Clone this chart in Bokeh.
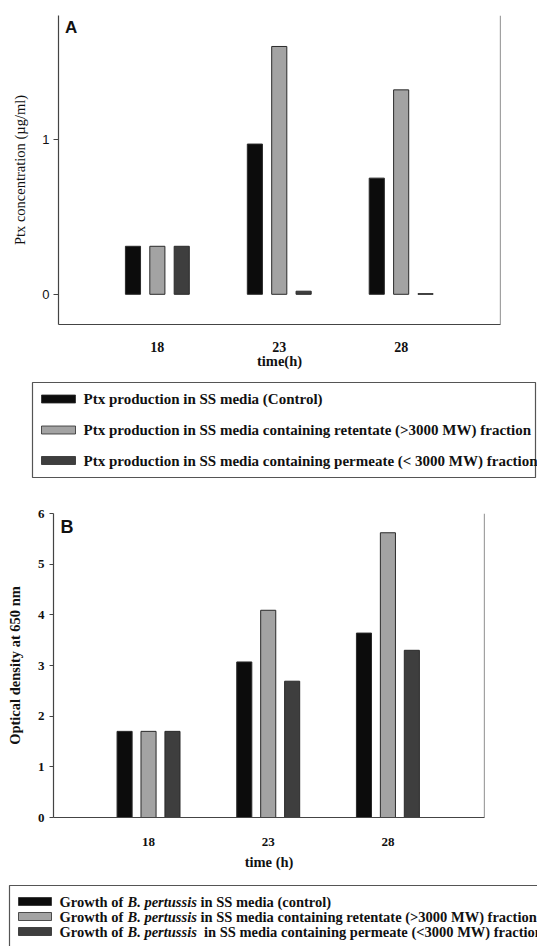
import numpy as np
from bokeh.plotting import figure
from bokeh.models import Range1d, FixedTicker, Span, Label
from bokeh.layouts import column
from bokeh.embed import file_html
from bokeh.resources import INLINE
from bokeh.core.properties import value

# ---------------- data ----------------
times = ["18", "23", "28"]

ptx_control = [0.31, 0.97, 0.75]
ptx_retentate = [0.31, 1.60, 1.32]
ptx_permeate = [0.31, 0.02, 0.004]

od_control = [1.70, 3.07, 3.64]
od_retentate = [1.70, 4.09, 5.62]
od_permeate = [1.70, 2.69, 3.30]

ptx_ticks = [0, 1]
od_ticks = [0, 1, 2, 3, 4, 5, 6]

legend_a = [
    "Ptx production in SS media (Control)",
    "Ptx production in SS media containing retentate (>3000 MW) fraction",
    "Ptx production in SS media containing permeate (< 3000 MW) fraction",
]
legend_b_pre = ["Growth of", "Growth of", "Growth of"]
legend_b_ital = ["B. pertussis", "B. pertussis", "B. pertussis"]
legend_b_post = [
    "in SS media (control)",
    "in SS media containing retentate (>3000 MW) fraction",
    "in SS media containing permeate (<3000 MW) fraction",
]

colors = ["#0c0c0c", "#a3a3a3", "#3e3e3e"]
SERIF = "Liberation Serif"
SANS = "Liberation Sans"
W = 537


def bar_panel(height, x_start, x_end, y_start, y_end, series, ticks,
              bl, br, bt, bb, width):
    p = figure(width=W, height=height, output_backend="svg", toolbar_location=None,
               x_range=Range1d(x_start, x_end), y_range=Range1d(y_start, y_end),
               min_border_left=bl, min_border_right=br, min_border_top=bt,
               min_border_bottom=bb, frame_align=False)
    p.xgrid.visible = False
    p.ygrid.visible = False
    p.outline_line_color = None
    x = np.arange(len(times))
    for vals, off, c in zip(series, [-0.2, 0.0, 0.2], colors):
        p.vbar(x=x + off, top=vals, bottom=0, width=width, fill_color=c,
               line_color="#2a2a2a", line_width=1)
    p.add_layout(Span(location=x_end, dimension="height", line_color="#444444",
                      line_width=1.2))
    p.xaxis.ticker = FixedTicker(ticks=list(x))
    p.xaxis.major_label_overrides = {int(i): t for i, t in zip(x, times)}
    p.xaxis.major_tick_line_color = None
    p.xaxis.minor_tick_line_color = None
    p.xaxis.axis_line_color = "#444444"
    p.xaxis.axis_line_width = 1.2
    p.yaxis.ticker = FixedTicker(ticks=ticks)
    p.yaxis.minor_tick_line_color = None
    p.yaxis.major_tick_in = 0
    p.yaxis.axis_line_color = "#444444"
    p.yaxis.axis_line_width = 1.2
    p.yaxis.major_tick_line_color = "#444444"
    for ax in (p.xaxis, p.yaxis):
        ax.major_label_text_color = "#111111"
        ax.axis_label_text_color = "#111111"
    return p


# ---------------- panel A ----------------
pA = bar_panel(378, -0.811, 2.815, -0.195, 1.80,
               [ptx_control, ptx_retentate, ptx_permeate], ptx_ticks,
               58, 37, 15, 54, 0.124)
pA.yaxis.major_tick_out = 5
pA.yaxis.major_label_standoff = 4
pA.yaxis.major_label_text_font = SANS
pA.yaxis.major_label_text_font_size = "13px"
pA.yaxis.axis_label = "Ptx concentration (µg/ml)"
pA.yaxis.axis_label_text_font = SERIF
pA.yaxis.axis_label_text_font_style = "normal"
pA.yaxis.axis_label_text_font_size = "14.5px"
pA.yaxis.axis_label_standoff = 11
pA.xaxis.major_label_standoff = 11
pA.xaxis.major_label_text_font = SERIF
pA.xaxis.major_label_text_font_style = "bold"
pA.xaxis.major_label_text_font_size = "14px"
pA.xaxis.axis_label = "time(h)"
pA.xaxis.axis_label_text_font = SERIF
pA.xaxis.axis_label_text_font_style = "bold"
pA.xaxis.axis_label_text_font_size = "14.5px"
pA.xaxis.axis_label_standoff = -2
pA.add_layout(Label(x=-0.757, y=1.787, text="A", text_font=SANS,
                    text_font_style="bold", text_font_size="17px",
                    text_baseline="top", text_color="#111111"))

# ---------------- legend A ----------------
def legend_canvas(h):
    f = figure(width=W, height=h, output_backend="svg", toolbar_location=None,
               x_range=Range1d(0, W), y_range=Range1d(h, 0), min_border=0,
               x_axis_location=None, y_axis_location=None, frame_align=False)
    f.xgrid.visible = False
    f.ygrid.visible = False
    f.outline_line_color = None
    return f

lA = legend_canvas(112)
lA.quad(left=[32], right=[535], top=[4], bottom=[99], fill_color=None,
        line_color="#555555", line_width=1.2)
rowsA = np.array([20.5, 51.5, 82.0])
lA.quad(left=41, right=75, top=rowsA - 4, bottom=rowsA + 4, fill_color=colors,
        line_color="#2a2a2a", line_width=0.8)
lA.text(x=83, y=rowsA, text=legend_a, text_font=value(SERIF),
        text_font_style="bold", text_font_size="15px", text_baseline="middle",
        text_color="#111111")

# ---------------- panel B ----------------
pB = bar_panel(384, -0.794, 2.807, 0, 6,
               [od_control, od_retentate, od_permeate], od_ticks,
               53, 53, 23, 57, 0.126)
pB.yaxis.major_tick_out = 4
pB.yaxis.major_label_standoff = 5
pB.yaxis.major_label_text_font = SERIF
pB.yaxis.major_label_text_font_style = "bold"
pB.yaxis.major_label_text_font_size = "13px"
pB.yaxis.axis_label = "Optical density at 650 nm"
pB.yaxis.axis_label_text_font = SERIF
pB.yaxis.axis_label_text_font_style = "bold"
pB.yaxis.axis_label_text_font_size = "14.5px"
pB.yaxis.axis_label_standoff = 12
pB.xaxis.major_label_standoff = 14
pB.xaxis.major_label_text_font = SERIF
pB.xaxis.major_label_text_font_style = "bold"
pB.xaxis.major_label_text_font_size = "13px"
pB.xaxis.axis_label = "time (h)"
pB.xaxis.axis_label_text_font = SERIF
pB.xaxis.axis_label_text_font_style = "bold"
pB.xaxis.axis_label_text_font_size = "14.5px"
pB.xaxis.axis_label_standoff = 5
pB.add_layout(Label(x=-0.735, y=5.93, text="B", text_font=SANS,
                    text_font_style="bold", text_font_size="18px",
                    text_baseline="top", text_color="#111111"))

# ---------------- legend B ----------------
lB = legend_canvas(72)
lB.quad(left=[9], right=[560], top=[11], bottom=[90], fill_color=None,
        line_color="#555555", line_width=1.2)
rowsB = np.array([27.0, 42.0, 57.0])
lB.quad(left=18, right=51, top=rowsB - 4, bottom=rowsB + 4, fill_color=colors,
        line_color="#2a2a2a", line_width=0.8)
common = dict(text_font=value(SERIF), text_font_size="14.5px",
              text_baseline="middle", text_color="#111111")
lB.text(x=59, y=rowsB, text=legend_b_pre, text_font_style="bold", **common)
lB.text(x=127, y=rowsB, text=legend_b_ital, text_font_style="bold italic", **common)
lB.text(x=[200.0, 200.0, 203.5], y=rowsB, text=legend_b_post,
        text_font_style="bold", **common)

layout = column(pA, lA, pB, lB, spacing=0)
open("out.html", "w").write(file_html(layout, INLINE))
